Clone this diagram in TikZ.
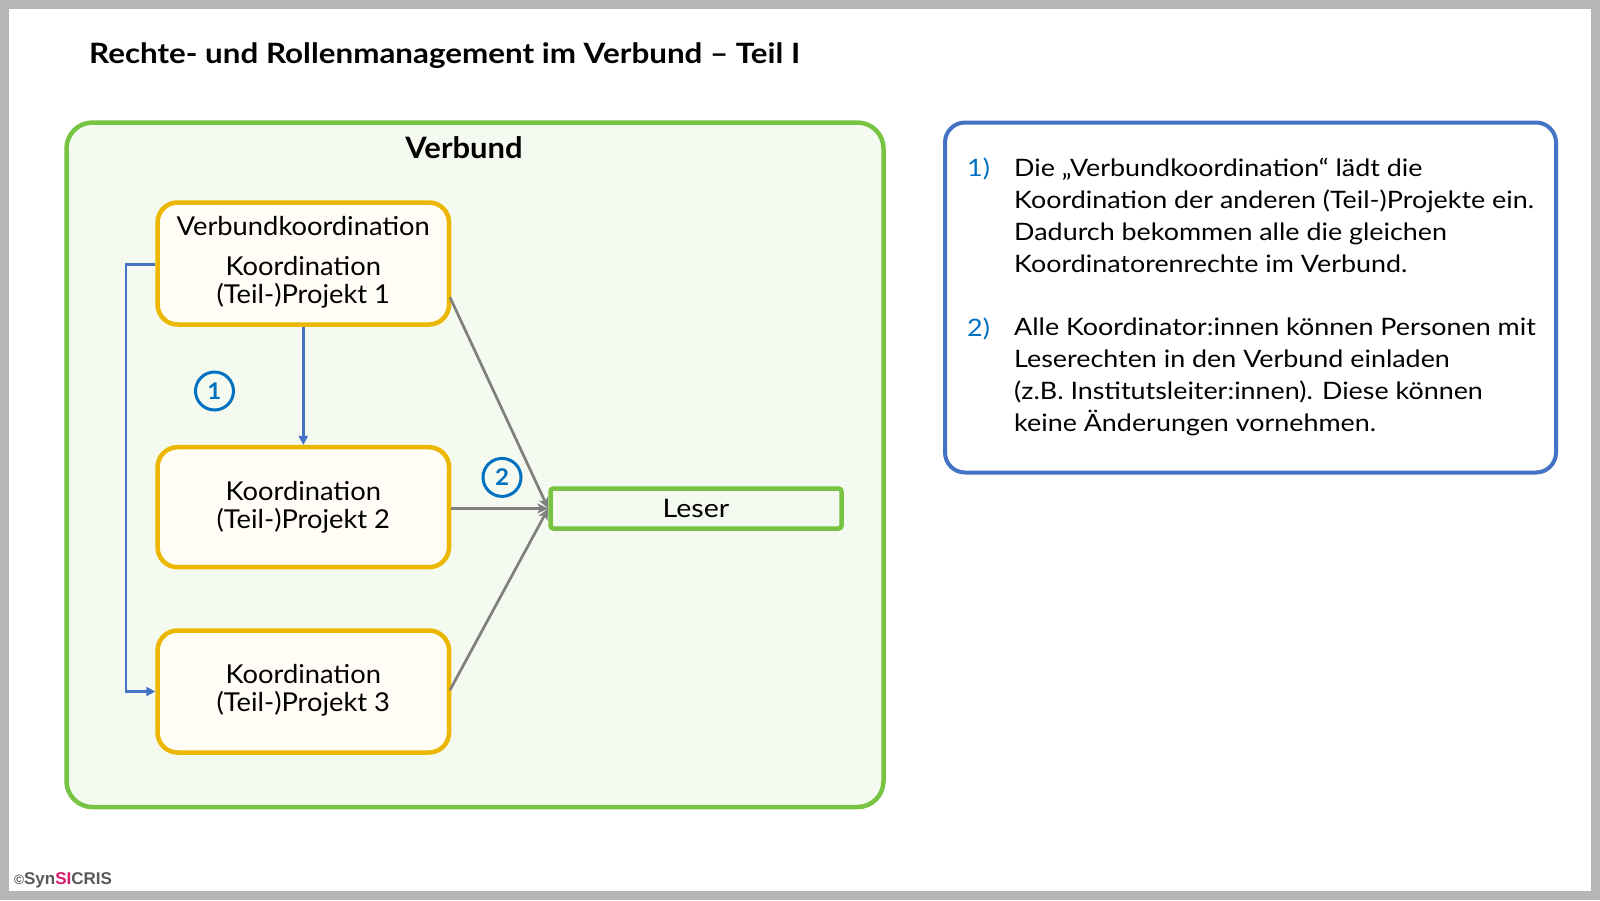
\documentclass[tikz,border=0pt]{standalone}
\usepackage{fontspec}
\setmainfont{Lato}[FakeStretch=1.05]
\newfontfamily\widefont{Lato}[FakeStretch=1.12,Ligatures=TeX]
\newfontfamily\logofont{Liberation Sans}
\usetikzlibrary{arrows.meta}
\definecolor{framegray}{HTML}{B7B5B7}
\definecolor{vgreen}{HTML}{76C442}
\definecolor{vgreenfill}{HTML}{F5FAF0}
\definecolor{kyellow}{HTML}{EBB700}
\definecolor{kfill}{HTML}{FFFDF6}
\definecolor{boxblue}{HTML}{4472C4}
\definecolor{numblue}{HTML}{0070C0}
\definecolor{arrgray}{HTML}{7F7F7F}
\definecolor{logogray}{HTML}{595959}
\definecolor{logopink}{HTML}{D81B6A}
\tikzset{
  kbox/.style={draw=kyellow, line width=4.5pt, fill=kfill, rounded corners=20pt, minimum width=291.5pt, minimum height=122pt, inner sep=0pt},
  ktext/.style={anchor=base, inner sep=0pt, font=\fontsize{26}{28}\selectfont},
  bluearrow/.style={draw=boxblue, line width=2.5pt, -{Triangle[length=9pt,width=9pt]}},
  grayarrow/.style={draw=arrgray, line width=2.7pt, -{Stealth[length=11pt,width=10pt,inset=3pt]}},
  numcircle/.style={circle, draw=numblue, line width=3pt, minimum size=38pt, inner sep=0pt, text=numblue, font=\bfseries\fontsize{23}{23}\selectfont},
  infotext/.style={anchor=north west, inner sep=0pt, align=left, font=\widefont\fontsize{24}{32.2}\selectfont},
  infonum/.style={anchor=north west, inner sep=0pt, text=numblue, font=\widefont\fontsize{24}{32.2}\selectfont}
}
\begin{document}
\begin{tikzpicture}[x=1pt,y=-1pt]
\useasboundingbox (0,0) rectangle (1600,900);
\fill[framegray] (0,0) rectangle (1600,900);
\fill[white] (9,9) rectangle (1591,891);

% title
\node[anchor=base west, inner sep=0pt, font=\widefont\bfseries\fontsize{28}{30}\selectfont] (title) at (89,63) {Rechte- und Rollenmanagement im Verbund – Teil I};

% Verbund container
\node[draw=vgreen, line width=4.5pt, fill=vgreenfill, rounded corners=26pt, minimum width=817pt, minimum height=684.5pt, inner sep=0pt] (verbund) at (475,464.8) {};
\node[anchor=base, inner sep=0pt, font=\bfseries\fontsize{29.5}{30}\selectfont] (verbundlbl) at (464,158) {Verbund};

% boxes
\node[kbox] (b1) at (303.3,263.5) {};
\node[kbox, minimum height=120pt] (b2) at (303.3,507.2) {};
\node[kbox] (b3) at (303.3,691.5) {};

\node[ktext] (b1a) at (303.3,235) {Verbundkoordination};
\node[ktext] (b1b) at (303.3,275) {Koordination};
\node[ktext] (b1c) at (303.3,303) {(Teil-)Projekt 1};
\node[ktext] (b2a) at (303.3,500) {Koordination};
\node[ktext] (b2b) at (303.3,528) {(Teil-)Projekt 2};
\node[ktext] (b3a) at (303.3,683) {Koordination};
\node[ktext] (b3b) at (303.3,711) {(Teil-)Projekt 3};

% Leser
\node[draw=vgreen, line width=4.5pt, fill=vgreenfill, rounded corners=3pt, minimum width=291pt, minimum height=40pt, inner sep=0pt, font=\widefont\fontsize{25.5}{28}\selectfont] (leser) at (696,508.5) {\raisebox{-1.5pt}{Leser}};

% circles
\node[numcircle] (c1) at (214.5,391) {1};
\node[numcircle] (c2) at (502,477.4) {2};

% blue connectors
\draw[bluearrow] (b1.south -| 303.3,0) -- (b2.north);
\coordinate (elbowTop) at (126,264.3);
\coordinate (elbowBot) at (126,691.5);
\draw[bluearrow] (b1.west |- elbowTop) -- (elbowTop) -- (elbowBot) -- (b3.west);

% gray connectors
\coordinate (g1) at (450,297.3);
\coordinate (g3) at (450,690);
\draw[grayarrow] (g1) -- (leser.west);
\draw[grayarrow] (b2.east |- leser.west) -- (leser.west);
\draw[grayarrow] (g3) -- (leser.west);

% info box
\node[draw=boxblue, line width=4pt, fill=white, rounded corners=20pt, minimum width=611pt, minimum height=350pt, inner sep=0pt] (info) at (1250.5,297.5) {};
\node[infonum] (n1) at (967,157.5) {1)};
\node[infotext] (t1) at (1014,157.5) {Die \char"201E Verbundkoordination\char"201C{} lädt die\\Koordination der anderen (Teil-)Projekte ein.\\Dadurch bekommen alle die gleichen\\Koordinatorenrechte im Verbund.};
\node[infonum] (n2) at (967,317.5) {2)};
\node[infotext] (t2) at (1014,317.5) {Alle Koordinator:innen können Personen mit\\Leserechten in den Verbund einladen\\(z.B. Institutsleiter:innen). Diese können\\keine Änderungen vornehmen.};

% logo
\node[anchor=base west, inner sep=0pt, font=\logofont\bfseries\fontsize{17}{17}\selectfont, text=logogray] (logo) at (14,884) {{\fontsize{13.5}{13.5}\selectfont ©}Syn\textcolor{logopink}{SI}CRIS};
\end{tikzpicture}
\end{document}
